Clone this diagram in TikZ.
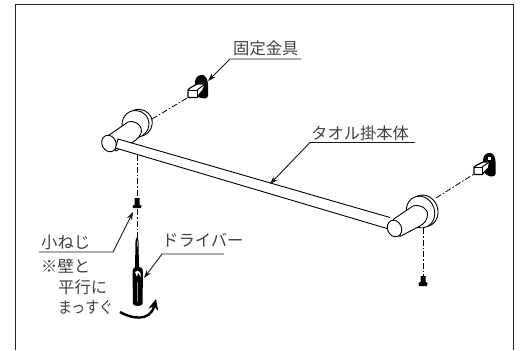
\documentclass[tikz,border=0pt]{standalone}
\usepackage{fontspec}
\newfontfamily\cjk{Noto Sans CJK JP}
\usetikzlibrary{arrows.meta}
\tikzset{
  part/.style={draw=black,line width=.9pt,line join=round},
  flange/.style={part,fill=white},
  center line/.style={draw=black,line width=.8pt,dash pattern=on 6pt off 2pt on 1.5pt off 2pt},
  leader/.style={draw=black!90,line width=.9pt},
  pointer/.style={leader,-{Stealth[length=8pt,width=5.5pt]}},
  label/.style={inner sep=0pt,anchor=west,text=black!75,font=\cjk\fontsize{16.3}{17}\selectfont},
}
\begin{document}
\begin{tikzpicture}[x=1pt,y=-1pt]
\useasboundingbox (0,0) rectangle (526,350);
% frame
\draw[draw=black!85,line width=1.2pt] (15.5,350) -- (15.5,4.5) -- (513.5,4.5) -- (513.5,350);

% named anchor points
\coordinate (lflange) at (135.5,124);
\coordinate (rflange) at (420.5,212);
\coordinate (lbracket) at (188,97.5);
\coordinate (rbracket) at (474,174);
\coordinate (lscrew) at (137,198);
\coordinate (rscrew) at (423,276);

% centre lines
\draw[center line] (152,119) -- (lbracket);
\draw[center line] (436,198) -- (rbracket);
\draw[center line] (137,155) -- (lscrew);
\draw[center line] (137,209) -- (137,238);
\draw[center line] (423,228) -- (rscrew);

% left post
\draw[flange,rotate around={20:(lflange)}] (139,124) ellipse [x radius=13.5,y radius=13.5];
\draw[flange,rotate around={20:(lflange)}] (lflange) ellipse [x radius=13.5,y radius=13.5];
\draw[flange] (106.7,136.7) -- (128,122) .. controls (135,120) and (142,125) .. (141.5,131)
   .. controls (141,135) and (138,139) .. (133,142) -- (116,151) -- cycle;
\draw[flange,rotate around={25:(109,143.5)}] (109,143.5) ellipse [x radius=7,y radius=8.5];

% right post
\draw[flange,rotate around={20:(rflange)}] (424,212) ellipse [x radius=14,y radius=16];
\draw[flange,rotate around={20:(rflange)}] (rflange) ellipse [x radius=14,y radius=16];
\draw[flange] (393,219.5) -- (413,206) .. controls (420,204) and (428,208) .. (427.5,215)
   .. controls (427,220) and (425,223) .. (420,226) -- (400,236.5) -- cycle;

% bar
\fill[white] (118,139) -- (393,218.5) -- (388,234) -- (115.5,148) -- cycle;
\draw[part] (115.5,148) -- (118,139) -- (390,217.5);
\draw[part] (115.5,148) -- (387,228.5);
% right cap over the bar
\draw[flange,rotate around={25:(394.5,228.5)}] (394.5,228.5) ellipse [x radius=7,y radius=8.5];

% left bracket
\fill[black] (195,83) .. controls (195,76) and (200,74.5) .. (203,75) .. controls (206,76) and (208,80) .. (208,85)
  -- (208,96) .. controls (207,99) and (203,99) .. (201,98) -- (195,96) -- cycle;
\draw[flange,line width=1.2pt] (188,90) -- (190,88) -- (197,84) -- (205,84) -- (203,90) -- (197,97.5) -- (188,97.5) -- cycle;
\draw[part] (188,90) -- (197,90) -- (197,97.5);
\draw[part] (197,90) -- (205,84);

% right bracket
\fill[black] (483,160) .. controls (483,154) and (488,152.5) .. (491,153) .. controls (494,154) and (495.5,158) .. (495.5,162)
  -- (495.5,174) .. controls (495,177) and (490,177) .. (488,175.5) -- (483,172) -- cycle;
\fill[white] (488,156.5) rectangle (491,160);
\draw[flange,line width=1.2pt] (474,167) -- (477,165) -- (483,162) -- (489.5,162) -- (488.5,168) -- (482,174.5) -- (474,174.5) -- cycle;
\draw[part] (474,167) -- (482,167) -- (482,174.5);
\draw[part] (482,167) -- (489.5,162);

% screws
\fill[black] (134.5,198) -- (139.5,198) -- (139.5,205) -- (141.5,205.5) -- (141,208) -- (133,208) -- (132.5,205.5) -- (134.5,205) -- cycle;
\fill[black] (420.5,276) -- (425.5,276) -- (425.5,282) -- (427.5,283) -- (427,286) -- (419,286) -- (418.5,283) -- (420.5,282) -- cycle;

% screwdriver
\fill[black] (135.5,242) .. controls (135.5,236) and (138.5,236) .. (138.5,242) -- (139,268) -- (135,268) -- cycle;
\draw[black!45,line width=.7pt] (137,241) -- (137,247);
\fill[black] (132.5,272) .. controls (132.5,268) and (135,266.5) .. (137.5,266.5) .. controls (140.5,266.5) and (143,268) .. (143,272)
   -- (142.5,304) .. controls (142,306.5) and (133.5,306.5) .. (133,304) -- cycle;
\fill[white] (135,272) -- (137,277) -- (138,272.5) -- (140.5,277) -- (140.5,273) -- (138,270.5) -- cycle;
\draw[black!45,line width=.6pt] (137,282) -- (137,302);

% rotation arrow
\draw[draw=black,line width=2.4pt,-{Stealth[length=11pt,width=10pt]}] (120,312) .. controls (130,318) and (150,323) .. (156,299);

% labels and leaders
\node[label] (fix) at (233,48) {固定金具};
\node[label] (body) at (311,133.5) {タオル掛本体};
\node[label] (screw) at (41,242) {小ねじ};
\node[label] (driver) at (162,240.5) {ドライバー};
\node[label] (note1) at (41,266) {※壁と};
\node[label] (note2) at (58,287) {平行に};
\node[label,xscale=.85] (note3) at (58,307) {まっすぐ};

\coordinate (fixL) at (230,59);
\draw[pointer] (301,59) -- (fixL) -- (208,81);
\coordinate (bodyL) at (310,142.5);
\draw[pointer] (415,142.5) -- (bodyL) -- (270,184);
\coordinate (screwL) at (113,252);
\draw[pointer] (39,252) -- (screwL) -- (133,212);
\coordinate (driverL) at (162,254);
\draw[pointer] (224,254) -- (driverL) -- (144,278);
\end{tikzpicture}
\end{document}
